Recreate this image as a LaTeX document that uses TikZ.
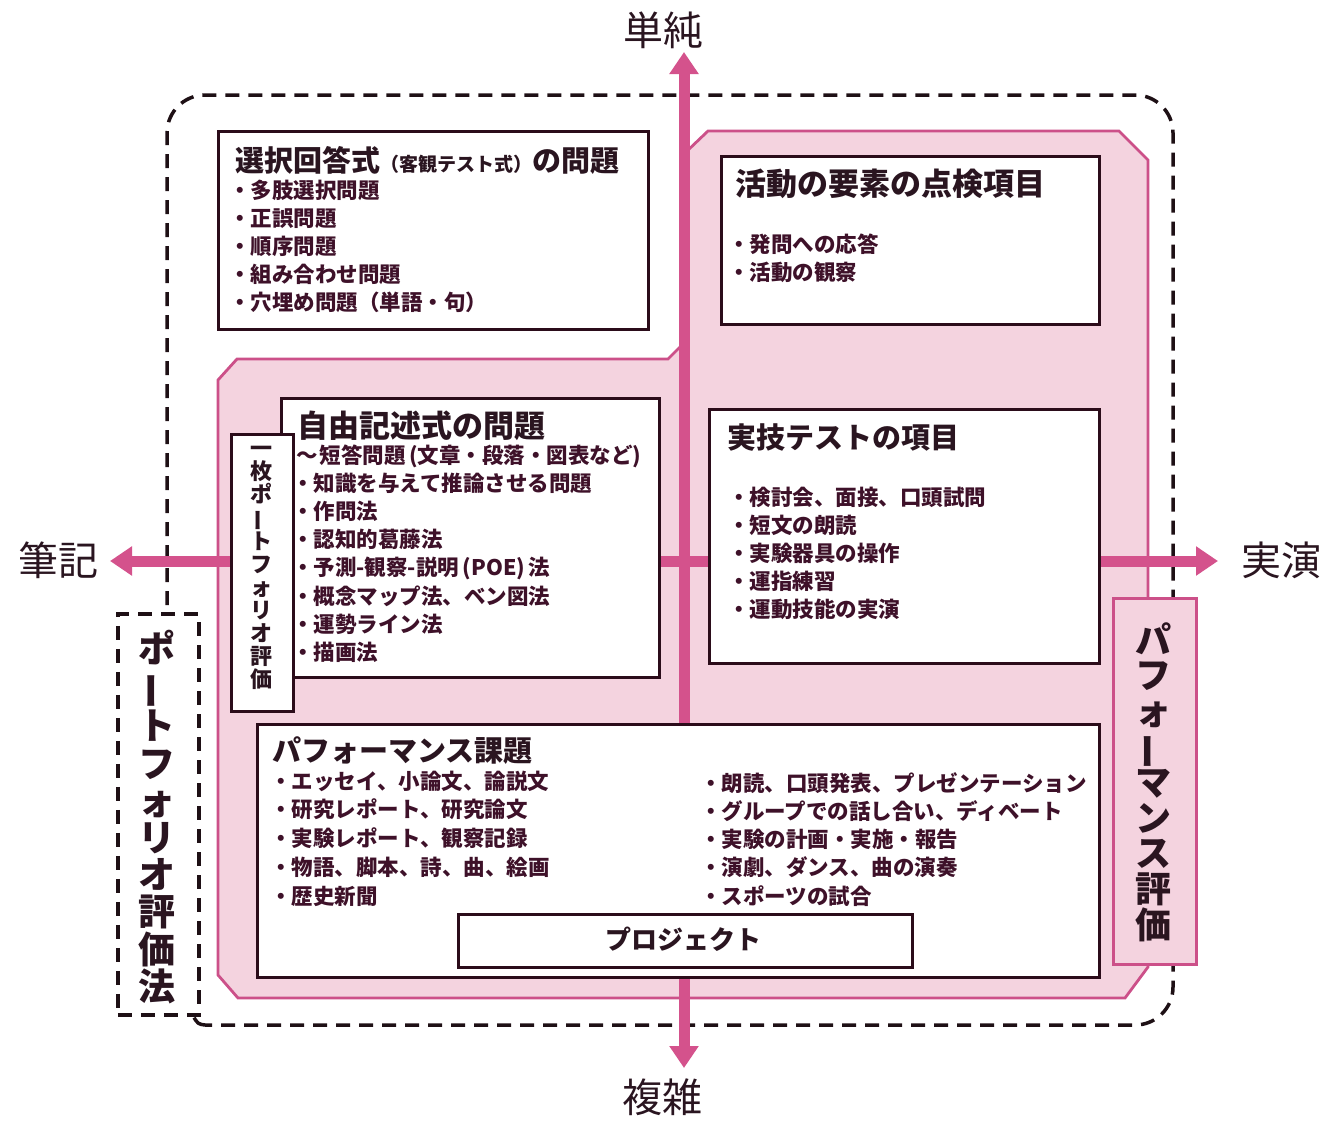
\documentclass[tikz,border=0pt]{standalone}
\usepackage{fontspec}
\newfontfamily\jp{Noto Sans CJK JP}
\usetikzlibrary{arrows.meta}
\definecolor{axiscol}{HTML}{D4528C}
\definecolor{pinkfill}{HTML}{F4D3DF}
\definecolor{pinkedge}{HTML}{CC5089}
\definecolor{boxcol}{HTML}{2B0C1A}
\definecolor{titlecol}{HTML}{2A1520}
\definecolor{itemcol}{HTML}{3E1129}
\definecolor{dashcol}{HTML}{1E1015}
\newcommand\myvbar{\rotatebox[origin=c]{90}{ー}}
\begin{document}
\begin{tikzpicture}[x=1pt,y=-1pt,
  box/.style={draw=boxcol, line width=3.2pt, fill=white, anchor=north west, inner sep=0pt},
  dashline/.style={draw=dashcol, line width=3.5pt, dash pattern=on 14pt off 9pt},
  axisline/.style={draw=axiscol, line width=11pt, {Triangle[width=28pt,length=22pt]}-{Triangle[width=28pt,length=22pt]}},
  ttl/.style={font=\jp\bfseries\fontsize{29}{29}\selectfont, text=titlecol, inner sep=0pt, anchor=base west},
  item/.style={font=\jp\bfseries\fontsize{21.5}{21.5}\selectfont, text=itemcol, inner sep=0pt, anchor=base west},
  axlabel/.style={font=\jp\fontsize{40}{40}\selectfont, text=titlecol, inner sep=0pt, anchor=center},
  vlabel/.style={text=titlecol, inner sep=0pt, anchor=center, align=center}]
\useasboundingbox (0,0) rectangle (1327,1122);

% pink performance region
\path[fill=pinkfill, draw=pinkedge, line width=2.8pt]
  (218,380) -- (237,359) -- (668,359) -- (686,341) -- (686,152) -- (708,131)
  -- (1119,131) -- (1148,160) -- (1148,967) -- (1125,998) -- (238,998)
  -- (218,975) -- cycle;

% dashed outer frame and portfolio box
\draw[dashline, rounded corners=38pt] (167,605) -- (167,95) -- (1173,95) -- (1173,1025) -- (205,1025);
\draw[dashline] (205,1025) .. controls (198,1024) .. (193,1016);
\node[dashline, anchor=north west, minimum width=81pt, minimum height=401pt, inner sep=0pt] (port) at (116,612) {};

% axes
\coordinate (topT) at (684,52);
\coordinate (botT) at (684,1068);
\coordinate (leftT) at (110,561);
\coordinate (rightT) at (1218,561);
\draw[axisline] (leftT) -- (rightT);
\draw[axisline] (topT) -- (botT);

\node[axlabel] (lTop) at (663,30) {単純};
\node[axlabel] (lBot) at (662,1097) {複雑};
\node[axlabel] (lLeft) at (58,560) {筆記};
\node[axlabel] (lRight) at (1281,560) {実演};

% boxes
\node[box, minimum width=430pt, minimum height=198pt] (sel) at (217,130) {};
\node[box, minimum width=378pt, minimum height=168pt] (act) at (720,155) {};
\node[box, minimum width=378pt, minimum height=279pt] (free) at (280,397) {};
\node[box, minimum width=62pt, minimum height=277pt] (one) at (230,433) {};
\node[box, minimum width=390pt, minimum height=254pt] (skill) at (708,408) {};
\node[box, minimum width=842pt, minimum height=253pt] (task) at (256,723) {};
\node[box, minimum width=454pt, minimum height=53pt] (proj) at (457,913) {};
\node[draw=pinkedge, fill=pinkfill, line width=2.8pt, anchor=north west, inner sep=0pt,
  minimum width=83pt, minimum height=366pt] (perf) at (1112,597) {};

% selection box
\node[ttl] (selT) at (235,171) {選択回答式{\fontsize{19}{19}\selectfont （客観テスト式）}の問題};
\foreach \t [count=\i from 0] in {多肢選択問題,正誤問題,順序問題,組み合わせ問題,穴埋め問題（単語・句）}
  \node[item] (sel\i) at (229,{198+\i*28.1}) {・\t};

% activity box
\node[ttl, font=\jp\bfseries\fontsize{31}{31}\selectfont] (actT) at (735,195) {活動の要素の点検項目};
\foreach \t [count=\i from 0] in {発問への応答,活動の観察}
  \node[item] (act\i) at (728,{252+\i*28}) {・\t};

% free description box
\node[ttl, font=\jp\bfseries\fontsize{31}{31}\selectfont] (freeT) at (297,437) {自由記述式の問題};
\node[item] (free0) at (296,463) {～\hspace{2pt}短答問題\,(文章・段落・図表など)};
\foreach \t [count=\i from 1] in {知識を与えて推論させる問題,作問法,認知的葛藤法,予測-観察-説明\,(POE)\,法,概念マップ法、ベン図法,運勢ライン法,描画法}
  \node[item] (free\i) at (292,{463+\i*28.2}) {・\t};

% skill test box
\node[ttl] (skillT) at (727,448) {実技テストの項目};
\foreach \t [count=\i from 0] in {検討会、面接、口頭試問,短文の朗読,実験器具の操作,運指練習,運動技能の実演}
  \node[item] (skill\i) at (728,{505+\i*28}) {・\t};

% performance task box
\node[ttl] (taskT) at (272,761) {パフォーマンス課題};
\foreach \t [count=\i from 0] in {エッセイ、小論文、論説文,研究レポート、研究論文,実験レポート、観察記録,物語、脚本、詩、曲、絵画,歴史新聞}
  \node[item] (taskL\i) at (270,{789+\i*28.75}) {・\t};
\foreach \t [count=\i from 0] in {朗読、口頭発表、プレゼンテーション,グループでの話し合い、ディベート,実験の計画・実施・報告,演劇、ダンス、曲の演奏,スポーツの試合}
  \node[item] (taskR\i) at (700,{791+\i*28.25}) {・\t};

\node[font=\jp\bfseries\fontsize{26}{26}\selectfont, text=titlecol, inner sep=0pt] (projT) at (683,939) {プロジェクト};

% vertical labels
\node[vlabel, font=\jp\bfseries\fontsize{22}{23}\selectfont] (oneT) at (261,568)
  {一\\枚\\ポ\\\myvbar\\ト\\フ\\ォ\\リ\\オ\\評\\価};
\node[vlabel, font=\jp\bfseries\fontsize{37}{37.2}\selectfont] (portT) at (157,817)
  {ポ\\\myvbar\\ト\\フ\\ォ\\リ\\オ\\評\\価\\法};
\node[vlabel, font=\jp\bfseries\fontsize{36}{35.6}\selectfont] (perfT) at (1153,782)
  {パ\\フ\\ォ\\\myvbar\\マ\\ン\\ス\\評\\価};
\end{tikzpicture}
\end{document}
